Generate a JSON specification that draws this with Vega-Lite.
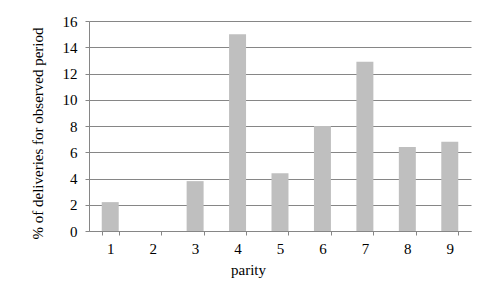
{
  "$schema": "https://vega.github.io/schema/vega-lite/v6.json",
  "width": 382,
  "height": 210,
  "autosize": {"type": "none"},
  "padding": {"left": 89, "top": 21, "right": 22, "bottom": 54},
  "background": "white",
  "config": {
    "view": {"stroke": null},
    "font": "Liberation Serif",
    "axis": {
      "labelFont": "Liberation Serif",
      "titleFont": "Liberation Serif",
      "labelFontSize": 15,
      "titleFontSize": 15,
      "labelColor": "black",
      "titleColor": "black",
      "titleFontWeight": "normal",
      "domainColor": "#868686",
      "tickColor": "#868686",
      "gridColor": "#868686",
      "gridOpacity": 1,
      "tickSize": 4
    }
  },
  "data": {
    "values": [
      {"parity": "1", "pct": 2.2},
      {"parity": "2", "pct": 0},
      {"parity": "3", "pct": 3.8},
      {"parity": "4", "pct": 15.0},
      {"parity": "5", "pct": 4.4},
      {"parity": "6", "pct": 8.0},
      {"parity": "7", "pct": 12.9},
      {"parity": "8", "pct": 6.4},
      {"parity": "9", "pct": 6.8}
    ]
  },
  "mark": {"type": "bar", "color": "#BFBFBF"},
  "encoding": {
    "x": {
      "field": "parity",
      "type": "ordinal",
      "scale": {"paddingInner": 0.6, "paddingOuter": 0.3},
      "axis": {
        "title": "parity",
        "labelAngle": 0,
        "tickBand": "extent",
        "labelPadding": 6,
        "titleX": 159,
        "titleY": 31,
        "titleBaseline": "top"
      }
    },
    "y": {
      "field": "pct",
      "type": "quantitative",
      "scale": {"domain": [0, 16]},
      "axis": {
        "title": "% of deliveries for observed period",
        "values": [0, 2, 4, 6, 8, 10, 12, 14, 16],
        "labelPadding": 8,
        "titleX": -44,
        "titleY": 112,
        "titleBaseline": "bottom"
      }
    }
  }
}
